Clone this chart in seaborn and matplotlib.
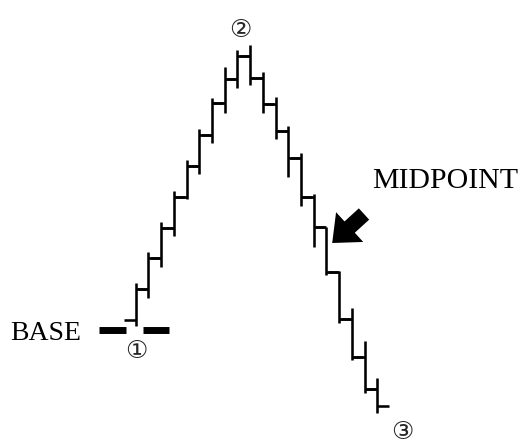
import numpy as np
import pandas as pd
import matplotlib
matplotlib.use("Agg")
import matplotlib.pyplot as plt
import seaborn as sns

# ---- data ----
bar_index = list(range(1, 21))
opens  = [13.0, 16.1, 19.2, 22.2, 25.3, 28.4, 31.5, 34.7, 37.1, 39.4,
          37.2, 34.6, 31.9, 29.2, 25.3, 22.3, 17.8, 13.1, 9.3, 6.1]
highs  = [16.7, 19.8, 22.8, 25.9, 29.0, 32.1, 35.2, 38.3, 40.0, 40.5,
          37.8, 35.3, 32.4, 29.7, 25.6, 22.3, 17.9, 14.2, 10.9, 7.2]
lows   = [12.4, 15.2, 18.3, 21.4, 25.1, 27.6, 30.7, 33.7, 36.2, 36.5,
          33.7, 31.1, 27.3, 24.4, 20.3, 17.5, 12.7, 9.0, 5.7, 3.7]
closes = [16.1, 19.2, 22.2, 25.3, 28.4, 31.5, 34.7, 37.1, 39.4, 37.2,
          34.6, 31.9, 29.2, 25.3, 22.3, 17.8, 13.1, 9.3, 6.1, 4.4]
labels = ["BASE", "MIDPOINT"]
markers = ["\u2460", "\u2461", "\u2462"]

# ---- build segments for OHLC bars ----
tick = 0.9
rows = []
seg = 0
for x, o, h, l, c in zip(bar_index, opens, highs, lows, closes):
    rows += [dict(seg=seg, x=x, y=l), dict(seg=seg, x=x, y=h)]
    seg += 1
    rows += [dict(seg=seg, x=x - tick, y=o), dict(seg=seg, x=x, y=o)]
    seg += 1
    rows += [dict(seg=seg, x=x, y=c), dict(seg=seg, x=x + tick, y=c)]
    seg += 1
df = pd.DataFrame(rows)

sns.set_theme(style="white")
fig = plt.figure(figsize=(5.24, 4.46), dpi=100)
ax = fig.add_axes([0, 0, 1, 1])
sns.lineplot(data=df, x="x", y="y", units="seg", estimator=None, sort=False,
             color="black", lw=1.85, solid_capstyle="butt", ax=ax, legend=False)

ax.set_xlim(-9.67, 31.53)
ax.set_ylim(0.4, 45.0)
ax.axis("off")

# base dashes
base_y = lows[0] - 0.35
ax.hlines([base_y, base_y], [-1.86, 1.6], [0.21, 3.64], color="black", lw=5.0)

serif = ["Liberation Serif", "DejaVu Serif"]
ax.text(-8.89, 11.0, labels[0], family=serif, fontsize=20, ha="left", va="baseline", color="black")
ax.text(19.58, 26.2, labels[1], family=serif, fontsize=21.5, ha="left", va="baseline", color="black")

ax.text(1.05, 9.9, markers[0], family=["DejaVu Sans"], fontsize=18, ha="center", va="center")
ax.text(9.2, 42.0, markers[1], family=["DejaVu Sans"], fontsize=18, ha="center", va="center")
ax.text(22.0, 1.8, markers[2], family=["DejaVu Sans"], fontsize=18, ha="center", va="center")

# arrow pointing to midpoint bar
ax.annotate("", xy=(16.45, 20.7), xytext=(18.95, 23.6),
            arrowprops=dict(arrowstyle="simple,head_length=0.85,head_width=1.45,tail_width=0.55",
                            mutation_scale=20, fc="black", ec="none",
                            shrinkA=0, shrinkB=0))

fig.savefig("out.png", dpi=100)
